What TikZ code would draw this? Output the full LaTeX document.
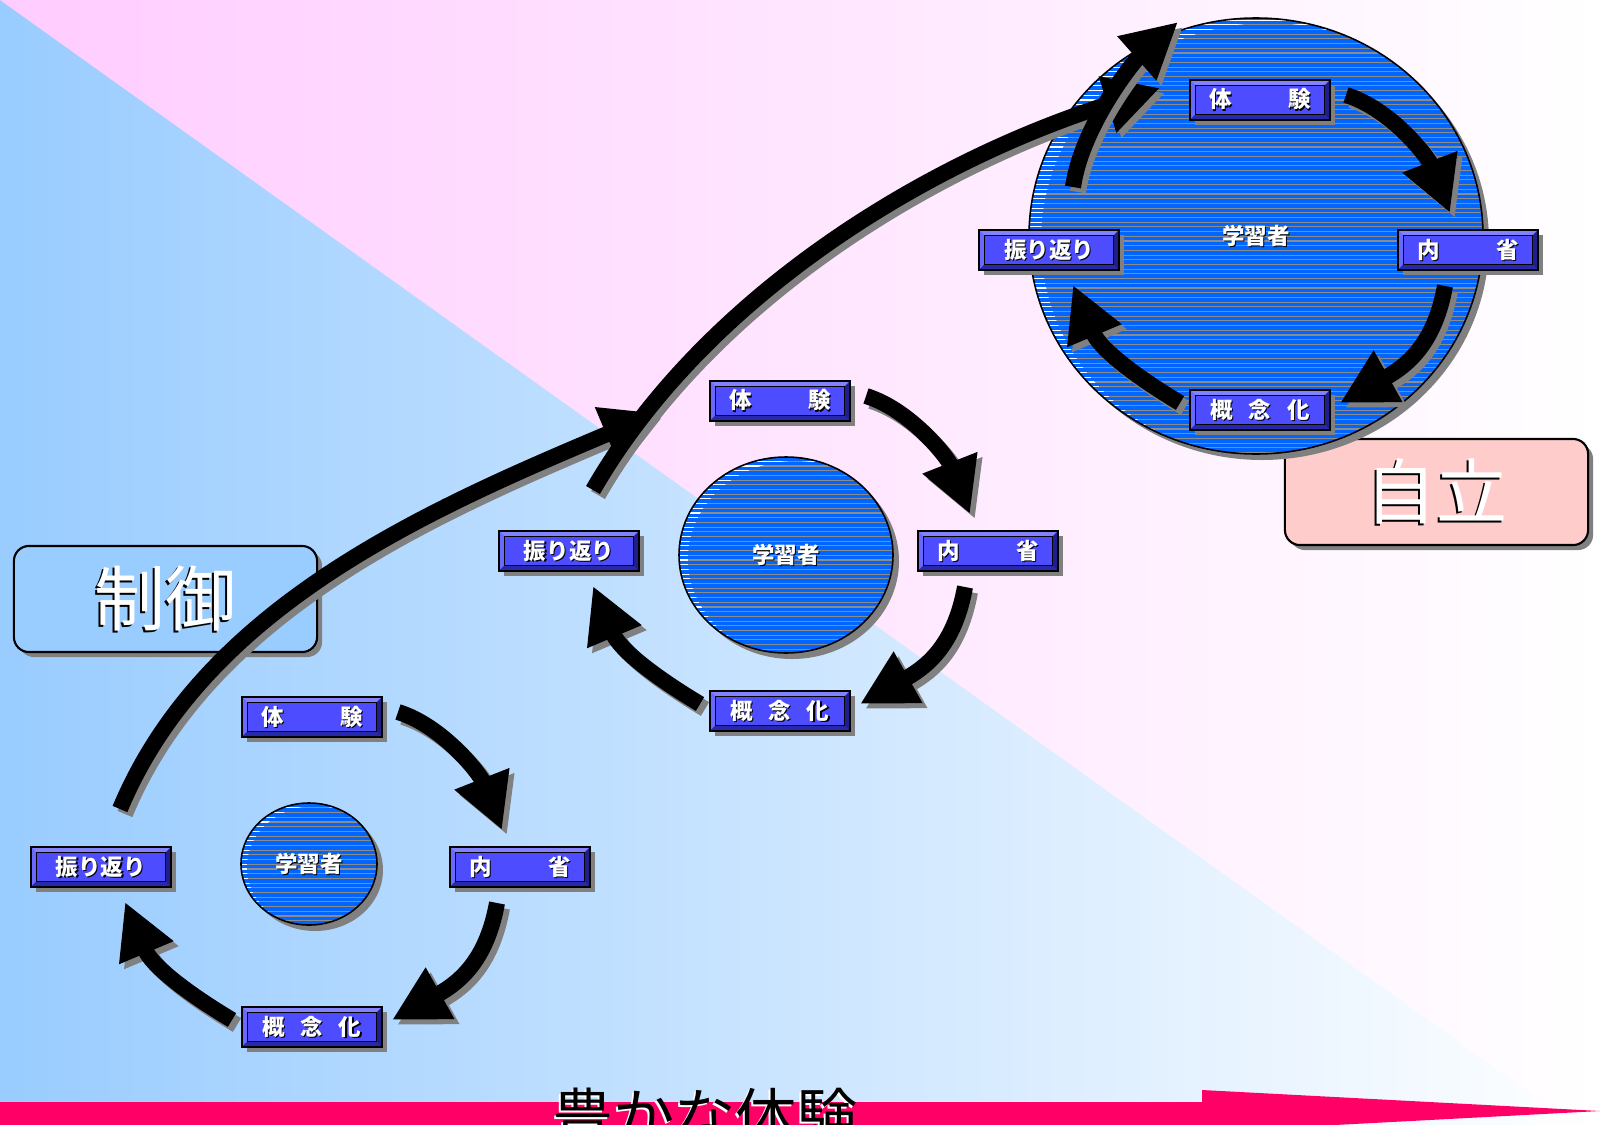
\documentclass[tikz,border=0pt]{standalone}
\usepackage{fontspec}
\newfontfamily\jp{Noto Sans CJK JP}
\usetikzlibrary{arrows.meta,shapes.geometric,shadows,calc}

\definecolor{pinkL}{RGB}{255,204,255}
\definecolor{blueL}{RGB}{153,204,255}
\definecolor{shgray}{RGB}{128,128,128}
\definecolor{lblfill}{RGB}{77,77,255}
\definecolor{bevlight}{RGB}{130,130,255}
\definecolor{bevmid}{RGB}{105,105,255}
\definecolor{bevdark}{RGB}{40,40,170}
\definecolor{bevdeep}{RGB}{30,30,140}
\definecolor{learnblue}{RGB}{0,102,255}
\definecolor{stripegray}{RGB}{140,140,140}
\definecolor{ctrlfill}{RGB}{153,204,255}
\definecolor{autofill}{RGB}{255,204,204}
\definecolor{expred}{RGB}{255,0,102}

% text with an offset shadow: #1 x offset, #2 raise, #3 shadow colour, #4 text
\newcommand\shtxt[4]{\makebox[0pt][l]{\hspace{#1}\raisebox{#2}{\color{#3}#4}}#4}
\newcommand\lbltxt[1]{\shtxt{0.3pt}{-0.3pt}{black}{#1}}

\tikzset{
  lbl/.style={rectangle, draw=black, line width=0.4pt, fill=lblfill,
    minimum width=1.4cm, minimum height=0.4cm, inner sep=0pt, text=white,
    font=\jp\bfseries\fontsize{6.4}{7}\selectfont,
    drop shadow={shadow xshift=0.05cm, shadow yshift=-0.05cm, fill=shgray, opacity=1},
    path picture={
      \coordinate (nw) at (path picture bounding box.north west);
      \coordinate (ne) at (path picture bounding box.north east);
      \coordinate (sw) at (path picture bounding box.south west);
      \coordinate (se) at (path picture bounding box.south east);
      \coordinate (inw) at ($(nw)+(0.055cm,-0.055cm)$);
      \coordinate (ine) at ($(ne)+(-0.055cm,-0.055cm)$);
      \coordinate (isw) at ($(sw)+(0.055cm,0.055cm)$);
      \coordinate (ise) at ($(se)+(-0.055cm,0.055cm)$);
      \fill[bevlight] (nw) -- (ne) -- (ine) -- (inw) -- cycle;
      \fill[bevmid] (nw) -- (inw) -- (isw) -- (sw) -- cycle;
      \fill[bevdark] (sw) -- (isw) -- (ise) -- (se) -- cycle;
      \fill[bevdeep] (ne) -- (ine) -- (ise) -- (se) -- cycle;
      \draw[line width=0.3pt] (inw) rectangle (ise);
    }},
  learner/.style={ellipse, draw=black, line width=0.45pt, fill=learnblue,
    inner sep=0pt, text=white, font=\jp\bfseries\fontsize{6.4}{7}\selectfont,
    drop shadow={shadow xshift=0.06cm, shadow yshift=-0.06cm, fill=shgray, opacity=1}},
  stripe/.style={line width=0.33pt, draw=stripegray},
  bigbox/.style={rectangle, rounded corners=0.15cm, draw=black, line width=0.6pt,
    minimum width=3.03cm, minimum height=1.06cm, inner sep=0pt, text=white,
    font=\jp\fontsize{20.2}{22}\selectfont,
    drop shadow={shadow xshift=0.05cm, shadow yshift=-0.05cm, fill=shgray, opacity=1}},
  flow/.style={line width=0.16cm, draw=black, -{Triangle[width=0.55cm,length=0.55cm]}},
  flowsh/.style={flow, draw=shgray, transform canvas={shift={(0.05cm,-0.05cm)}}},
}

% learner ellipse: #1 name, #2 x, #3 y, #4 x radius, #5 y radius, #6/#7 highlight shift
\newcommand\learner[7]{%
  \node[learner, minimum width={2*#4*0.01cm}, minimum height={2*#5*0.01cm},
    path picture={
      \coordinate (lc) at (path picture bounding box.center);
      \foreach \k in {0,...,98} {\draw[stripe, draw=white] ($(lc)+(-240,{-230+4.7*\k})$) -- ++(480,0);}
      \begin{scope}
        \clip ($(lc)+(#6,#7)$) ellipse [x radius=#4, y radius=#5];
        \foreach \k in {0,...,98} {\draw[stripe] ($(lc)+(-240,{-230+4.7*\k})$) -- ++(480,0);}
      \end{scope}
    }] (#1) at (#2,#3) {\lbltxt{学習者}};
}

% the four stage labels of one cycle
\newcommand\stagelabels[1]{%
  \node[lbl] (#1-exp) at (312,717) {\lbltxt{体\hspace{2.5em}験}};
  \node[lbl] (#1-ref) at (101,867) {\lbltxt{振り返り}};
  \node[lbl] (#1-int) at (520,867) {\lbltxt{内\hspace{2.5em}省}};
  \node[lbl] (#1-con) at (312,1027) {\lbltxt{概\hspace{0.7em}念\hspace{0.7em}化}};
}

% thick curved arrow with its shadow
\newcommand\flowarrow[4]{%
  \draw[flowsh] #1 .. controls #2 and #3 .. #4;
  \draw[flow] #1 .. controls #2 and #3 .. #4;
}

% the three arrows inside one cycle
\newcommand\stagearrows[1]{%
  \coordinate (#1-a1s) at (398,712);  \coordinate (#1-a1e) at (502,830);
  \coordinate (#1-a2s) at (497,903);  \coordinate (#1-a2e) at (392,1020);
  \coordinate (#1-a3s) at (232,1020); \coordinate (#1-a3e) at (125,902);
  \flowarrow{(#1-a1s)}{(443,726)}{(480,774)}{(#1-a1e)}
  \flowarrow{(#1-a2s)}{(487,958)}{(462,981)}{(#1-a2e)}
  \flowarrow{(#1-a3s)}{(187,993)}{(152,966)}{(#1-a3e)}
}

\begin{document}
\begin{tikzpicture}[x=0.01cm,y=-0.01cm]
\useasboundingbox (0,0) rectangle (1600,1124);
\clip (0,0) rectangle (1600,1124);

% background: blue lower-left, pink upper-right
\shade[left color=blueL, right color=white] (0,0) rectangle (1600,1124);
\shade[left color=pinkL, right color=white] (0,0) -- (1600,0) -- (1600,1124) -- (1574,1124) -- cycle;

% stage captions
\node[bigbox, fill=ctrlfill] (ctrl) at (165.5,599) {\shtxt{-0.57pt}{-0.57pt}{black}{制御}};
\node[bigbox, fill=autofill] (auto) at (1436.5,492) {\shtxt{-0.57pt}{-0.57pt}{black}{自立}};

% learners
\learner{s-lrn}{309}{864}{68}{61}{6}{3}
\learner{m-lrn}{786}{555}{107}{98}{9}{4}
\learner{b-lrn}{1256}{236}{227}{218}{12}{5}

% labels of the three cycles
\stagelabels{s}
\begin{scope}[shift={(468,-316)}]
  \stagelabels{m}
\end{scope}
\begin{scope}[shift={(948,-617)}]
  \stagelabels{b}
\end{scope}

% arrows leading from one cycle to the next
\coordinate (l1s) at (120,809);  \coordinate (l1e) at (657,413);
\coordinate (l2s) at (593,490);  \coordinate (l2e) at (1160,88);
\flowarrow{(l1s)}{(204,607)}{(427,510)}{(l1e)}
\flowarrow{(l2s)}{(703,299)}{(922,163)}{(l2e)}

% arrows inside each cycle
\stagearrows{s}
\begin{scope}[shift={(468,-316)}]
  \stagearrows{m}
\end{scope}
\begin{scope}[shift={(948,-617)}]
  \stagearrows{b}
\end{scope}
\coordinate (b-a4s) at (1073,187); \coordinate (b-a4e) at (1178,22);
\flowarrow{(b-a4s)}{(1082,125)}{(1135,60)}{(b-a4e)}

% bottom axis arrow
\fill[expred] (0,1102) -- (1202,1102) -- (1202,1090) -- (1600,1111)
  -- (1202,1132) -- (0,1132) -- cycle;
\node[inner sep=0pt, font=\jp\fontsize{17.4}{19}\selectfont, text=black]
  (axis) at (705,1117) {\shtxt{-0.57pt}{-0.57pt}{white}{豊かな体験}};
\end{tikzpicture}
\end{document}
